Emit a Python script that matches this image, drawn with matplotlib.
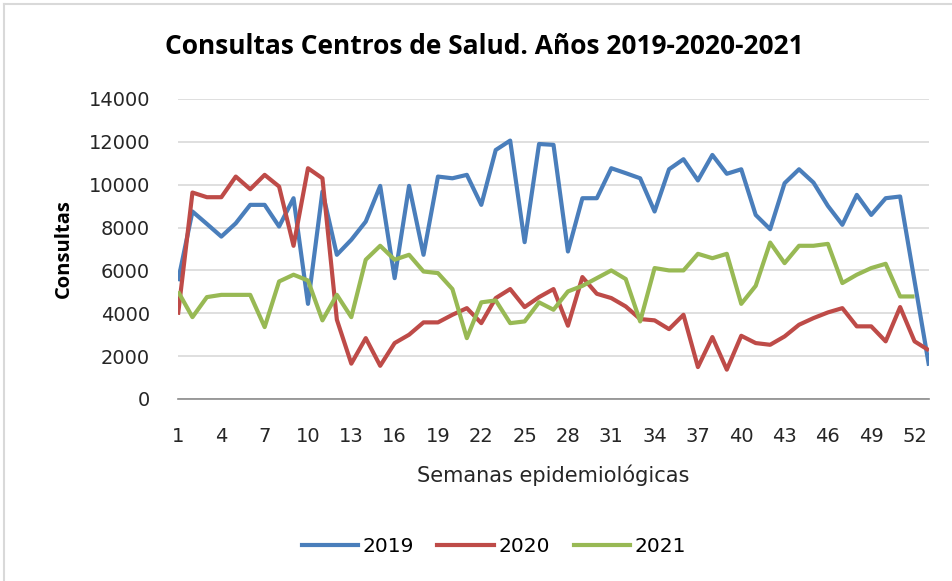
import matplotlib
matplotlib.use("Agg")
import matplotlib.pyplot as plt
from matplotlib.lines import Line2D
import numpy as np

weeks = list(range(1, 54))
tick_weeks = list(range(1, 53, 3))

c2019 = [5500, 8750, 8170, 7580, 8200, 9060, 9060, 8050, 9370, 4440,
         9680, 6730, 7430, 8280, 9945, 5640, 9945, 6730, 10380, 10300,
         10460, 9060, 11620, 12060, 7320, 11900, 11860, 6885, 9370, 9370,
         10770, 10540, 10300, 8750, 10720, 11190, 10200, 11390, 10510, 10720,
         8590, 7925, 10070, 10720, 10100, 9010, 8130, 9525, 8590, 9370,
         9450, 5500, 1550]
c2020 = [3930, 9635, 9417, 9417, 10380, 9790, 10460, 9915, 7150, 10770,
         10300, 3700, 1650, 2840, 1550, 2610, 3000, 3575, 3575, 3930,
         4240, 3540, 4710, 5130, 4290, 4755, 5130, 3420, 5690, 4910,
         4710, 4320, 3730, 3670, 3260, 3930, 1490, 2890, 1370, 2950,
         2610, 2530, 2920, 3465, 3775, 4040, 4240, 3390, 3390, 2690,
         4290, 2690, 2270]
c2021 = [5020, 3820, 4755, 4860, 4860, 4860, 3356, 5485, 5800, 5530,
         3670, 4860, 3820, 6500, 7150, 6500, 6730, 5950, 5875, 5130,
         2840, 4510, 4600, 3540, 3620, 4510, 4165, 5020, 5280, 5640,
         6000, 5600, 3620, 6110, 6000, 6000, 6775, 6570, 6775, 4440,
         5280, 7300, 6340, 7150, 7150, 7240, 5410, 5800, 6110, 6310,
         4785, 4785, None]

series = {"2019": c2019, "2020": c2020, "2021": c2021}
colors = {"2019": "#4A7EBB", "2020": "#BE4B48", "2021": "#98B954"}

W, H = 953, 581
fig = plt.figure(figsize=(W / 100, H / 100), dpi=100)
ax = fig.add_axes([178 / W, 1 - 399 / H, (929 - 178) / W, (399 - 99) / H])

for name, vals in series.items():
    y = np.array([np.nan if v is None else v for v in vals], dtype=float)
    ax.plot(weeks, y, color=colors[name], lw=3.0, label=name,
            solid_joinstyle="round", solid_capstyle="butt")

ax.set_xlim(1, 53)
ax.set_ylim(0, 14000)
ax.set_yticks(range(0, 14001, 2000))
ax.set_xticks(tick_weeks)
ax.set_xticklabels([str(t) for t in tick_weeks])
ax.grid(axis="y", color="#D9D9D9", lw=1.2)
ax.set_axisbelow(True)
for s in ["top", "right", "left"]:
    ax.spines[s].set_visible(False)
ax.spines["bottom"].set_color("#8C8C8C")
ax.spines["bottom"].set_linewidth(1.2)
ax.tick_params(axis="both", length=0, labelsize=14, colors="#262626")
ax.tick_params(axis="y", pad=20)
ax.tick_params(axis="x", pad=20)

fig.text(484 / W, 1 - 46 / H, "Consultas Centros de Salud. Años 2019-2020-2021",
         ha="center", va="center", fontsize=19, fontweight="bold",
         family="Open Sans", color="black")
fig.text(64 / W, 1 - 249 / H, "Consultas", rotation=90, ha="center", va="center",
         fontsize=14.5, fontweight="bold", family="Open Sans", color="black")
fig.text(553 / W, 1 - 475 / H, "Semanas epidemiológicas", ha="center", va="center",
         fontsize=15, family="DejaVu Sans", color="#262626")

handles = [Line2D([0], [0], color=colors[n], lw=3.0) for n in series]
fig.legend(handles, list(series.keys()), loc="center", ncol=3,
           bbox_to_anchor=(494 / W, 1 - 547 / H), frameon=False,
           fontsize=14.5, handlelength=2.8, handletextpad=0.25, columnspacing=1.15)

fig.add_artist(Line2D([4 / W, 4 / W], [0, 1 - 4 / H], color="#D9D9D9", lw=1.5,
                      transform=fig.transFigure))
fig.add_artist(Line2D([4 / W, 1], [1 - 4 / H, 1 - 4 / H], color="#D9D9D9", lw=1.5,
                      transform=fig.transFigure))

fig.savefig("out.png", dpi=100, facecolor="white")
